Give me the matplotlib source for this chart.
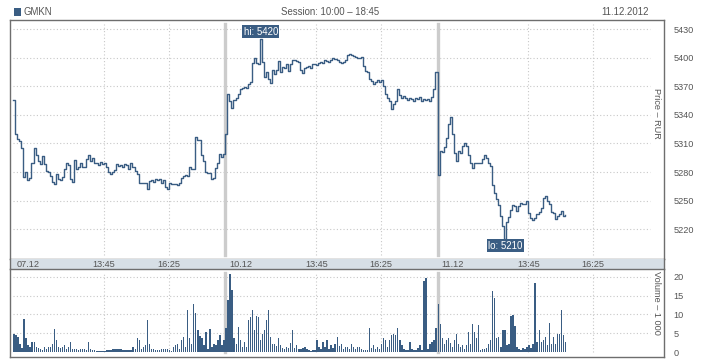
import matplotlib
matplotlib.use('Agg')
import matplotlib.pyplot as plt
import matplotlib.transforms as mtransforms
import numpy as np

plt.rcParams['font.family'] = ['Liberation Sans', 'DejaVu Sans']

ticker = "GMKN"
session_text = "Session: 10:00 \u2013 18:45"
date_text = "11.12.2012"
day_labels = ["07.12", "10.12", "11.12"]
time_labels = ["13:45", "16:25"]
time_label_minutes = [225, 385]
session_minutes = 525
step_minutes = 5
price_ticks = [5220, 5250, 5280, 5310, 5340, 5370, 5400, 5430]
volume_ticks = [0, 5, 10, 15, 20]
price_axis_label = "Price \u2013 RUR"
volume_axis_label = "Volume \u2013 1 000"

price_day1 = [5356, 5320, 5315, 5313, 5305, 5275, 5280, 5272, 5274, 5290,
              5305, 5298, 5292, 5288, 5297, 5288, 5281, 5280, 5276, 5270,
              5267, 5278, 5273, 5272, 5275, 5283, 5290, 5287, 5273, 5270,
              5293, 5283, 5285, 5289, 5285, 5285, 5294, 5298, 5292, 5295,
              5290, 5289, 5287, 5291, 5288, 5290, 5285, 5280, 5278, 5280,
              5282, 5288, 5286, 5287, 5285, 5288, 5287, 5283, 5289, 5285,
              5281, 5278, 5268, 5269, 5268, 5269, 5262, 5271, 5272, 5270,
              5273, 5272, 5273, 5268, 5272, 5264, 5262, 5269, 5267, 5267,
              5267, 5266, 5269, 5274, 5276, 5277, 5276, 5285, 5283, 5283,
              5317, 5314, 5314, 5298, 5292, 5280, 5279, 5279, 5273, 5274,
              5284, 5290, 5299, 5296, 5299]
price_day2 = [5320, 5362, 5355, 5347, 5356, 5358, 5362, 5367, 5368, 5369,
              5368, 5373, 5375, 5395, 5400, 5395, 5394, 5420, 5396, 5380,
              5385, 5378, 5374, 5387, 5383, 5387, 5397, 5385, 5390, 5389,
              5393, 5386, 5394, 5398, 5398, 5397, 5396, 5387, 5384, 5389,
              5390, 5391, 5389, 5393, 5393, 5392, 5395, 5396, 5395, 5398,
              5397, 5396, 5398, 5400, 5399, 5398, 5396, 5395, 5396, 5398,
              5403, 5404, 5403, 5402, 5401, 5400, 5400, 5401, 5391, 5386,
              5385, 5378, 5376, 5373, 5375, 5377, 5375, 5377, 5370, 5362,
              5358, 5355, 5346, 5351, 5355, 5367, 5361, 5358, 5360, 5358,
              5356, 5358, 5357, 5355, 5358, 5357, 5359, 5355, 5357, 5356,
              5357, 5355, 5359, 5367, 5385]
price_day3 = [5277, 5302, 5301, 5306, 5316, 5330, 5338, 5320, 5300, 5292,
              5302, 5300, 5307, 5310, 5307, 5298, 5290, 5284, 5290, 5290,
              5289, 5289, 5294, 5298, 5295, 5290, 5286, 5266, 5258, 5252,
              5245, 5234, 5223, 5210, 5228, 5233, 5240, 5245, 5244, 5239,
              5244, 5247, 5246, 5246, 5250, 5237, 5232, 5230, 5232, 5236,
              5238, 5242, 5253, 5255, 5250, 5246, 5238, 5237, 5231, 5234,
              5236, 5239, 5234, 5235]

volume_day1 = [4.9, 4.6, 4.0, 2.2, 1.0, 8.7, 3.6, 1.8, 1.3, 2.7,
               2.7, 1.3, 1.0, 0.8, 0.6, 1.3, 0.9, 1.3, 1.2, 2.2,
               6.2, 3.1, 1.2, 1.1, 1.2, 1.8, 0.9, 1.3, 2.7, 0.9,
               0.9, 0.8, 0.6, 0.7, 0.8, 0.8, 0.6, 2.7, 0.9, 0.5,
               0.5, 0.4, 0.4, 0.3, 0.4, 0.4, 0.5, 0.5, 0.6, 0.8,
               0.9, 0.8, 0.8, 0.7, 0.6, 0.6, 0.5, 0.5, 0.6, 1.3,
               0.9, 3.6, 3.1, 0.9, 1.3, 1.8, 8.6, 2.2, 0.8, 0.8,
               0.6, 0.5, 0.6, 0.7, 0.9, 0.9, 0.8, 0.5, 0.4, 1.3,
               1.8, 2.2, 0.9, 3.1, 4.0, 1.3, 11.1, 3.6, 2.2, 12.7,
               10.4, 5.8, 4.2, 3.6, 1.8, 5.3, 0.9, 6.2, 1.3, 2.2,
               1.8, 3.1, 4.4, 1.8, 3.3]
volume_day2 = [6.5, 13.8, 20.9, 16.4, 3.6, 2.2, 6.7, 3.1, 1.3, 2.7,
               1.3, 8.4, 9.3, 11.3, 5.8, 9.5, 9.3, 3.1, 4.9, 5.8,
               8.4, 11.3, 4.0, 2.0, 2.2, 1.5, 3.6, 1.8, 1.0, 0.9,
               1.3, 1.0, 2.4, 5.8, 1.0, 1.8, 0.8, 0.9, 1.0, 1.2,
               0.8, 0.5, 0.4, 0.6, 0.6, 3.1, 1.3, 0.9, 2.7, 1.2,
               3.1, 0.9, 1.8, 1.1, 2.2, 4.0, 1.5, 2.0, 0.9, 1.3,
               1.3, 0.8, 2.2, 1.3, 0.9, 1.3, 1.2, 0.8, 0.6, 0.6,
               0.6, 6.5, 1.0, 1.8, 0.9, 1.3, 0.9, 2.2, 3.8, 3.1,
               1.3, 3.1, 4.4, 4.9, 4.4, 6.5, 3.1, 1.8, 0.8, 0.6,
               0.6, 2.7, 0.9, 0.6, 0.6, 1.0, 1.8, 0.6, 18.9, 19.6,
               0.9, 2.0, 2.7, 3.1, 6.5]
volume_day3 = [12.7, 7.4, 3.8, 2.2, 3.1, 3.8, 2.4, 1.3, 3.1, 4.9,
               2.2, 1.3, 1.8, 0.9, 1.8, 5.3, 2.0, 7.4, 5.3, 3.8,
               7.1, 0.6, 0.8, 0.8, 1.0, 2.0, 3.1, 16.3, 14.5, 3.6,
               4.0, 1.3, 5.8, 5.8, 1.8, 2.2, 9.6, 9.9, 6.8, 1.3,
               0.7, 0.6, 1.0, 0.8, 1.3, 1.8, 1.0, 2.2, 18.4, 2.7,
               5.8, 2.7, 3.3, 4.0, 1.8, 7.6, 2.2, 4.0, 2.2, 4.9,
               4.9, 11.1, 4.4, 2.7]

LINE = '#3a5d83'
GRID = '#c8c8c8'
SEP = '#cccccc'
FRAME = '#6e6e6e'
TXT = '#555555'
FS = 6.6

prices = [price_day1, price_day2, price_day3]
volumes = [volume_day1, volume_day2, volume_day3]
xs, ys, vx, vy = [], [], [], []
for d, (p, v) in enumerate(zip(prices, volumes)):
    xs.append(d * session_minutes + np.arange(len(p)) * step_minutes)
    ys.append(np.array(p, float))
    vx.append(d * session_minutes + np.arange(len(v)) * step_minutes)
    vy.append(np.array(v, float))
x = np.concatenate(xs); y = np.concatenate(ys)
xv = np.concatenate(vx); yv = np.concatenate(vy)
n_days = len(prices)
x_end = n_days * session_minutes

W, H = 718, 360
fig = plt.figure(figsize=(W / 100, H / 100), dpi=100)
fig.patch.set_facecolor('white')

def frac(l, t, r, b):
    return [l / W, 1 - b / H, (r - l) / W, (b - t) / H]

ax_p = fig.add_axes(frac(10, 20, 664, 259))
ax_b = fig.add_axes(frac(10, 259, 664, 269))
ax_v = fig.add_axes(frac(10, 269, 664, 357))

xlim = (-8.2, 1610.6)
for ax in (ax_p, ax_b, ax_v):
    ax.set_xlim(*xlim)
    for s in ax.spines.values():
        s.set_color(FRAME)
        s.set_linewidth(1.0)
    ax.set_xticks([])

ax_b.set_facecolor('#d7dfe6')
ax_b.set_yticks([])
ax_b.spines['top'].set_visible(False)
ax_b.spines['bottom'].set_visible(False)

# price panel
ax_p.set_ylim(5188.7, 5439.7)
gl = dict(color=GRID, lw=0.8, ls=(0, (1, 2)), zorder=1)
for pt in price_ticks:
    ax_p.plot([0, x_end], [pt, pt], **gl)
for d in range(n_days):
    for tm in time_label_minutes:
        ax_p.axvline(d * session_minutes + tm, ymin=0.017, ymax=0.983, **gl)
        ax_v.axvline(d * session_minutes + tm, ymin=0.057, ymax=0.958, **gl)
for d in range(1, n_days):
    ax_p.axvline(d * session_minutes, ymin=0.017, ymax=0.983, color=SEP, lw=2.4, zorder=2)
    ax_v.axvline(d * session_minutes, ymin=0.057, ymax=0.958, color=SEP, lw=2.4, zorder=2)

ax_p.plot(x, y, color=LINE, lw=1.0, drawstyle='steps-post', zorder=3)
ax_p.yaxis.tick_right()
ax_p.set_yticks(price_ticks)
ax_p.tick_params(axis='y', length=0, pad=7, labelsize=FS, labelcolor=TXT)
ax_p.text(0.989, 0.61, price_axis_label, transform=ax_p.transAxes, rotation=270,
          ha='center', va='center', fontsize=FS, color=TXT)

ih = int(np.argmax(y)); il = int(np.argmin(y))
box = dict(boxstyle='square,pad=0.15', fc=LINE, ec='none')
ax_p.annotate(f"hi: {y[ih]:.0f}", (x[ih] + 2.5, y[ih]), xytext=(0, 5.2),
              textcoords='offset points', ha='center', va='center',
              fontsize=FS + 0.4, color='white', bbox=box, zorder=5)
ax_p.annotate(f"lo: {y[il]:.0f}", (x[il] + 2.5, y[il]), xytext=(0, -5.2),
              textcoords='offset points', ha='center', va='center',
              fontsize=FS + 0.4, color='white', bbox=box, zorder=5)

# date band
tb = mtransforms.blended_transform_factory(ax_b.transData, ax_b.transAxes)
for d, lab in enumerate(day_labels):
    ax_b.text(d * session_minutes + 9, 0.45, lab, transform=tb, ha='left', va='center',
              fontsize=FS, color=TXT)
    for tm, tl in zip(time_label_minutes, time_labels):
        ax_b.text(d * session_minutes + tm, 0.45, tl, transform=tb, ha='center',
                  va='center', fontsize=FS, color=TXT)

# volume panel
ax_v.set_ylim(-1.33, 22.1)
for vt in volume_ticks[1:]:
    ax_v.plot([0, x_end], [vt, vt], **gl)
ax_v.bar(xv, yv, width=3.4, align='edge', color=LINE, lw=0, zorder=3,
         antialiased=False)
ax_v.yaxis.tick_right()
ax_v.set_yticks(volume_ticks)
ax_v.tick_params(axis='y', length=0, pad=7, labelsize=FS, labelcolor=TXT)
ax_v.text(0.989, 0.62, volume_axis_label, transform=ax_v.transAxes, rotation=270,
          ha='center', va='center', fontsize=FS, color=TXT)

# header
fig.patches.append(plt.Rectangle((14 / W, 1 - 15.5 / H), 7 / W, 7 / H,
                                 transform=fig.transFigure, fc=LINE, ec='none'))
fig.text(23 / W, 1 - 12 / H, ticker, ha='left', va='center', fontsize=FS + 0.3, color=TXT)
fig.text(330 / W, 1 - 12 / H, session_text, ha='center', va='center', fontsize=FS + 0.3, color=TXT)
fig.text(649 / W, 1 - 12 / H, date_text, ha='right', va='center', fontsize=FS + 0.3, color=TXT)

fig.savefig('out.png', dpi=100, facecolor='white')
